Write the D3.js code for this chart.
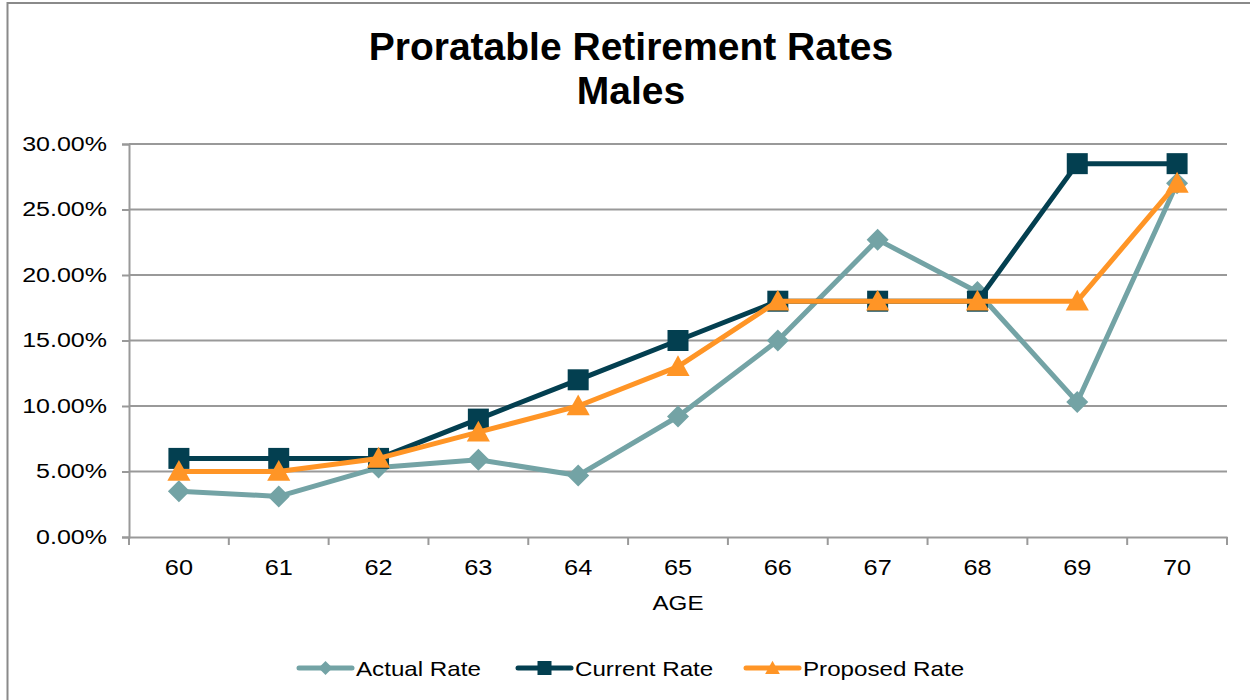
<!DOCTYPE html>
<html>
<head>
<meta charset="utf-8">
<script src="https://cdn.jsdelivr.net/npm/d3@7"></script>
<style>
  body { margin: 0; background: #fff; }
  svg { font-family: "Liberation Sans", Arial, sans-serif; }
</style>
</head>
<body>
<svg id="chart" width="1250" height="700"></svg>
<script>
let ages = [60, 61, 62, 63, 64, 65, 66, 67, 68, 69, 70]
let actualRate = [0.035, 0.031, 0.053, 0.059, 0.047, 0.092, 0.150, 0.227, 0.187, 0.103, 0.270]
let currentRate = [0.06, 0.06, 0.06, 0.09, 0.12, 0.15, 0.18, 0.18, 0.18, 0.285, 0.285]
let proposedRate = [0.05, 0.05, 0.06, 0.08, 0.10, 0.13, 0.18, 0.18, 0.18, 0.18, 0.27]
let yTicks = [0, 0.05, 0.10, 0.15, 0.20, 0.25, 0.30]
let seriesNames = ['Actual Rate', 'Current Rate', 'Proposed Rate']

let svg = d3.select('#chart')

// the source picture has its small text a bit wider than plain Arial
let stretch = (sel, f) => sel.each(function () {
  let w = this.getComputedTextLength()
  d3.select(this).attr('textLength', w * f).attr('lengthAdjust', 'spacingAndGlyphs')
})

// outer frame
svg.append('rect').attr('x', 7.5).attr('y', 3).attr('width', 1250).attr('height', 710)
  .attr('fill', 'none').attr('stroke', '#8a8a8a').attr('stroke-width', 2)

// title
svg.append('text').attr('x', 631).attr('y', 60).attr('text-anchor', 'middle')
  .attr('font-size', 39).attr('font-weight', 'bold').text('Proratable Retirement Rates')
svg.append('text').attr('x', 631).attr('y', 104).attr('text-anchor', 'middle')
  .attr('font-size', 39).attr('font-weight', 'bold').text('Males')

let x = d3.scaleBand(ages, [129, 1227])
let y = d3.scaleLinear([0, 0.30], [537, 144])
let cx = a => x(a) + x.bandwidth() / 2

// gridlines
svg.append('g').selectAll('line').data(yTicks.slice(1)).join('line')
  .attr('x1', 129).attr('x2', 1227)
  .attr('y1', d => y(d)).attr('y2', d => y(d))
  .attr('stroke', '#999').attr('stroke-width', 2)

// y axis
let yAxis = svg.append('g').attr('transform', 'translate(129,0)')
  .call(d3.axisLeft(y).tickValues(yTicks).tickFormat(d3.format('.2%')).tickSize(7).tickPadding(15))
yAxis.selectAll('path, line').attr('stroke', '#999').attr('stroke-width', 2)
yAxis.selectAll('text').attr('font-size', 20).attr('fill', '#000')
  .style('font-family', '"Liberation Sans", Arial, sans-serif')
  .call(stretch, 1.25)

// x axis (labels at band centres, ticks at band edges)
let xAxis = svg.append('g').attr('transform', 'translate(0,537)')
  .call(d3.axisBottom(x).tickSize(0).tickPadding(22))
xAxis.select('.domain').attr('stroke', '#999').attr('stroke-width', 2)
xAxis.selectAll('text').attr('font-size', 22).attr('fill', '#000')
  .style('font-family', '"Liberation Sans", Arial, sans-serif')
  .call(stretch, 1.15)
svg.append('g').selectAll('line').data(ages.map(a => x(a)).concat([1227])).join('line')
  .attr('x1', d => d).attr('x2', d => d).attr('y1', 537).attr('y2', 545)
  .attr('stroke', '#999').attr('stroke-width', 2)

svg.append('text').attr('x', 678).attr('y', 610).attr('text-anchor', 'middle')
  .attr('font-size', 21).text('AGE').call(stretch, 1.15)

// series
let colors = ['#73a3a5', '#033f50', '#ff9526']
let data = [actualRate, currentRate, proposedRate]
let line = d3.line().x((d, i) => cx(ages[i])).y(d => y(d))

let diamond = s => `M0,${-s}L${s},0L0,${s}L${-s},0Z`
let square = s => `M${-s},${-s}H${s}V${s}H${-s}Z`
let triangle = s => `M0,${-s * 1.05}L${s * 1.05},${s * 0.85}L${-s * 1.05},${s * 0.85}Z`
let shapes = [diamond, square, triangle]
let sizes = [11, 10.5, 11]

data.forEach((vals, k) => {
  svg.append('path').datum(vals).attr('d', line)
    .attr('fill', 'none').attr('stroke', colors[k]).attr('stroke-width', 5)
    .attr('stroke-linejoin', 'round')
  svg.append('g').selectAll('path').data(vals).join('path')
    .attr('transform', (d, i) => `translate(${cx(ages[i])},${y(d)})`)
    .attr('d', shapes[k](sizes[k])).attr('fill', colors[k])
})

// legend
let legendX = [299, 518, 746]
seriesNames.forEach((name, k) => {
  let g = svg.append('g').attr('transform', `translate(${legendX[k]},668)`)
  g.append('line').attr('x1', 0).attr('x2', 53).attr('y1', 0).attr('y2', 0)
    .attr('stroke', colors[k]).attr('stroke-width', 5).attr('stroke-linecap', 'round')
  g.append('path').attr('transform', 'translate(26.5,0)').attr('d', shapes[k](7)).attr('fill', colors[k])
  g.append('text').attr('x', 57).attr('y', 8).attr('font-size', 21).text(name).call(stretch, 1.15)
})
</script>
</body>
</html>
